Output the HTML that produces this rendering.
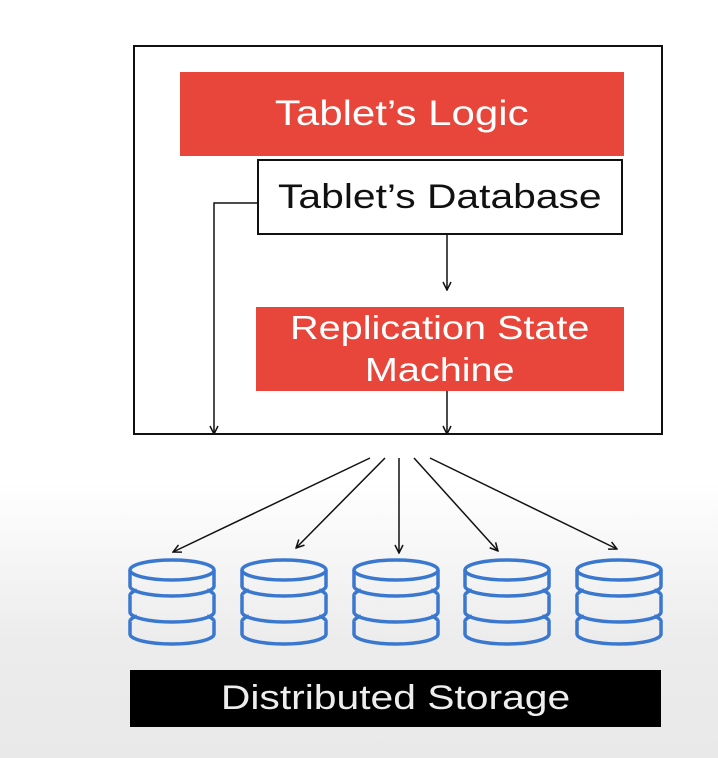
<!DOCTYPE html>
<html><head><style>
html,body{margin:0;padding:0}
body{width:718px;height:758px;overflow:hidden;background:linear-gradient(to bottom,#fff 0,#fff 480px,#ececec 640px,#e9e9e9 758px);font-family:"Liberation Sans",sans-serif;position:relative}
.t{position:absolute;display:flex;align-items:center;justify-content:center;text-align:center;box-sizing:border-box}
.t span{display:inline-block;transform:scaleX(1.2);white-space:nowrap}
</style></head><body>
<div style="position:absolute;left:133px;top:45px;width:530px;height:390px;border:2px solid #111;box-sizing:border-box;background:#fff"></div>
<div class="t" style="left:180px;top:72px;width:444px;height:84px;background:#e8463a;color:#fff;font-size:35px"><span>Tablet’s Logic</span></div>
<div class="t" style="left:257px;top:159px;width:366px;height:76px;background:#fff;border:2px solid #111;color:#111;font-size:34px"><span>Tablet’s Database</span></div>
<div class="t" style="left:256px;top:307px;width:368px;height:84px;background:#e8463a;color:#fff;font-size:33px;line-height:42px"><span>Replication State<br>Machine</span></div>
<div class="t" style="left:130px;top:670px;width:531px;height:57px;background:#000;color:#eee;font-size:34px"><span>Distributed Storage</span></div>
<svg width="718" height="758" style="position:absolute;left:0;top:0">
<defs><marker id="a" markerWidth="10" markerHeight="10" refX="9" refY="5" orient="auto" markerUnits="userSpaceOnUse"><path d="M1,1 L9,5 L1,9" fill="none" stroke="#111" stroke-width="1.5"/></marker></defs>
<g stroke="#111" stroke-width="1.5" fill="none" marker-end="url(#a)">
<line x1="447" y1="235" x2="447" y2="290"/>
<line x1="447" y1="391" x2="447" y2="434"/>
<polyline points="257,203 214,203 214,434"/>
<line x1="370" y1="458" x2="173" y2="552"/>
<line x1="385" y1="458" x2="296" y2="548"/>
<line x1="399" y1="458" x2="399" y2="553"/>
<line x1="414" y1="458" x2="498" y2="551"/>
<line x1="430" y1="458" x2="617" y2="549"/>
</g>
<g stroke="#3a78d0" stroke-width="3.5" fill="none">
<g id="c">
<path d="M130,570 v16 a42,10 0 0 0 84,0 v-16"/>
<ellipse cx="172" cy="570" rx="42" ry="10"/>
<path d="M130,596 v16 a42,10 0 0 0 84,0 v-16"/>
<path d="M130,596 a42,10 0 0 1 7,-6 M214,596 a42,10 0 0 0 -7,-6"/>
<path d="M130,622 v12 a42,10 0 0 0 84,0 v-12"/>
<path d="M130,622 a42,10 0 0 1 7,-6 M214,622 a42,10 0 0 0 -7,-6"/>
</g>
<use href="#c" x="112"/><use href="#c" x="224"/><use href="#c" x="335"/><use href="#c" x="447"/>
</g>
</svg>
</body></html>
